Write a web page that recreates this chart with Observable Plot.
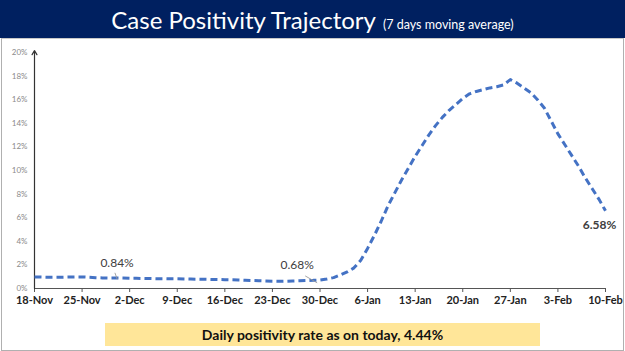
<!DOCTYPE html>
<html>
<head>
<meta charset="utf-8">
<script src="https://cdn.jsdelivr.net/npm/d3@7"></script>
<script src="https://cdn.jsdelivr.net/npm/@observablehq/plot@0.6"></script>
<style>
  html, body { margin: 0; padding: 0; background: #fff; }
  body { width: 625px; height: 351px; overflow: hidden; position: relative; font-family: Lato, "Open Sans", sans-serif; }
  #title { position: absolute; left: 0; top: 0; width: 625px; height: 38px; background: #002060; color: #fff;
           text-align: center; line-height: 40px; font-size: 24px; white-space: nowrap; }
  #title small { font-size: 12.5px; margin-left: 7px; }
  #frame { position: absolute; left: 1px; top: 38px; width: 621px; height: 311px; border: 1px solid #b0b0b0; border-top: 1px solid #c8c8c8; }
  #chart { position: absolute; left: 0; top: 38px; }
  #note { position: absolute; left: 105px; top: 323px; width: 435px; height: 23px; background: #FFE699;
          text-align: center; line-height: 23px; font-size: 14px; font-weight: bold; color: #111; }
</style>
</head>
<body>
<div id="title">Case Positivity Trajectory<small>(7 days moving average)</small></div>
<div id="frame"></div>
<div id="chart"></div>
<div id="note">Daily positivity rate as on today, 4.44%</div>
<script>
// Tick labels, one per week, starting 18-Nov
const tickLabels = ["18-Nov","25-Nov","2-Dec","9-Dec","16-Dec","23-Dec","30-Dec","6-Jan","13-Jan","20-Jan","27-Jan","3-Feb","10-Feb"];
// 7-day moving average positivity (%), daily from 18-Nov to 10-Feb
const positivity = [
  0.97,0.97,0.96,0.96,0.96,0.97,0.98,
  0.98,0.95,0.92,0.90,0.89,0.89,0.88,
  0.86,0.86,0.85,0.84,0.83,0.83,0.82,
  0.82,0.81,0.80,0.79,0.78,0.77,0.76,
  0.75,0.74,0.72,0.70,0.68,0.66,0.64,
  0.62,0.61,0.62,0.64,0.66,0.68,0.69,
  0.72,0.80,0.92,1.15,1.40,1.75,2.40,
  3.40,4.50,5.70,7.00,8.10,9.20,10.20,
  11.20,12.10,13.00,13.80,14.50,15.10,15.60,
  16.10,16.50,16.70,16.85,17.00,17.10,17.25,
  17.70,17.40,17.00,16.60,16.00,15.30,14.20,
  13.10,12.20,11.30,10.40,9.40,8.50,7.60,
  6.58
];
// Annotated values
const labelDays = [12, 41];
const labelTexts = ["0.84%", "0.68%"];
const lastLabel = "6.58%";

const data = positivity.map((v, i) => ({day: i, value: v}));
const weekTicks = tickLabels.map((_, i) => i * 7);
const lastDay = positivity.length - 1;
const annot = labelDays.map((d, i) => ({day: d, value: positivity[d], text: labelTexts[i]}));

const leader = {
  draw(context, l) { context.moveTo(0, 0); context.lineTo(0, -l); }
};

const chart = Plot.plot({
  width: 625,
  height: 277,
  marginTop: 14,
  marginBottom: 27,
  marginLeft: 34,
  marginRight: 20,
  style: {fontFamily: "Lato, 'Open Sans', sans-serif", background: "transparent"},
  x: {domain: [0, lastDay]},
  y: {domain: [0, 20]},
  marks: [
    Plot.axisY({ticks: d3.range(0, 21, 2), tickSize: 0, tickPadding: 7, tickFormat: d => d + "%",
                fontSize: 8, fill: "#8a8a8a", label: null}),
    Plot.axisX({ticks: weekTicks, tickSize: 4, tickPadding: 4, stroke: "#555",
                tickFormat: d => tickLabels[d / 7], fontSize: 11, fontWeight: "bold", fill: "#222", label: null}),
    Plot.ruleY([0], {stroke: "#555", strokeWidth: 1.2}),
    Plot.arrow([0], {x1: 0, x2: 0, y1: 0, y2: 20, stroke: "#333", strokeWidth: 1.2, headLength: 6, insetEnd: -2}),
    Plot.line(data, {x: "day", y: "value", stroke: "#4472C4", strokeWidth: 3, strokeDasharray: "7 4", strokeLinecap: "butt", curve: "linear"}),
    Plot.vector(annot.slice(0, 1), {x: "day", y: "value", length: 6, rotate: -20, shape: leader, stroke: "#999", strokeWidth: 0.8, dy: -2}),
    Plot.vector(annot.slice(1), {x: "day", y: "value", length: 13, rotate: -60, shape: leader, stroke: "#999", strokeWidth: 0.8, dy: -1, dx: -2}),
    Plot.text(annot.slice(0, 1), {x: "day", y: "value", text: "text", dy: -15, dx: 1, fontSize: 12, fill: "#404040"}),
    Plot.text(annot.slice(1), {x: "day", y: "value", text: "text", dy: -15, dx: -16, fontSize: 12, fill: "#404040"}),
    Plot.text([data[lastDay]], {x: "day", y: "value", text: () => lastLabel, dy: 14, dx: -6, fontSize: 12, fontWeight: "bold", fill: "#404040"})
  ]
});
document.getElementById("chart").appendChild(chart);
</script>
</body>
</html>
